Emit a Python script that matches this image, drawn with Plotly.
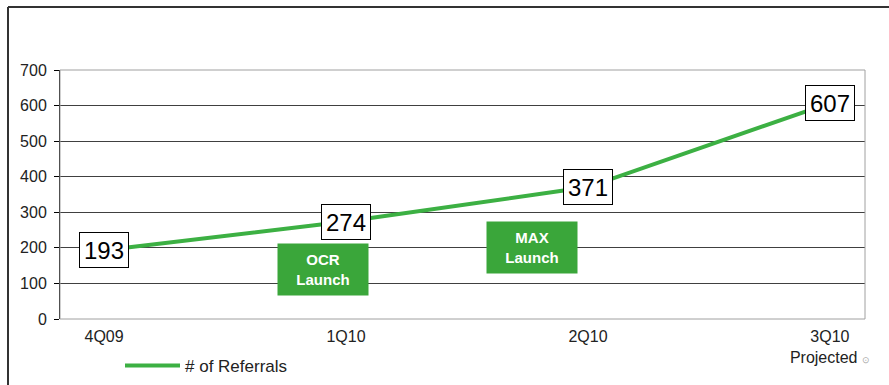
import plotly.graph_objects as go

quarters = ["4Q09", "1Q10", "2Q10", "3Q10<br>Projected <span style='font-size:9px;color:#aaa'>⊙</span>"]
referrals = [193, 274, 371, 607]
events = ["OCR<br>Launch", "MAX<br>Launch"]
series_name = "# of Referrals"

W, H = 889, 385
L, R, T, B = 60, 24, 70, 66
pw, ph = W - L - R, H - T - B

def px(xp):
    return (xp - L) / pw

def py(yp):
    return (H - B - yp) / ph

xs = list(range(len(quarters)))
fig = go.Figure()
fig.add_trace(go.Scatter(
    x=xs, y=referrals, mode="lines", name=series_name,
    line=dict(color="#3cb043", width=4), showlegend=True,
))

for x, v in zip(xs, referrals):
    fig.add_annotation(
        x=x, y=v, text=str(v), showarrow=False,
        font=dict(family="Liberation Sans, Arial", size=24, color="#000"),
        bgcolor="#fff", bordercolor="#000", borderwidth=1, borderpad=2,
        width=44, height=30,
    )

# event boxes (positions in data space between quarters)
event_pos = [(0.905, 140), (1.77, 202)]
for (ex, ey), txt in zip(event_pos, events):
    fig.add_annotation(
        x=ex, y=ey, text="<b>" + txt + "</b>", showarrow=False,
        font=dict(family="Liberation Sans, Arial", size=15, color="#fff"),
        bgcolor="#3aa63a", borderpad=0, width=90, height=51,
    )

# plot frame
fig.add_shape(type="rect", xref="paper", yref="paper", x0=0, x1=1, y0=0, y1=1,
              line=dict(color="#a0a0a0", width=1), layer="above")
# outer frame (left & top)
fig.add_shape(type="line", xref="paper", yref="paper", x0=px(8), x1=px(8), y0=py(7), y1=py(H + 5),
              line=dict(color="#333", width=2))
fig.add_shape(type="line", xref="paper", yref="paper", x0=px(8), x1=px(W + 5), y0=py(7), y1=py(7),
              line=dict(color="#333", width=2))

fig.update_layout(
    width=W, height=H, margin=dict(l=L, r=R, t=T, b=B, autoexpand=False),
    paper_bgcolor="#fff", plot_bgcolor="#fff",
    font=dict(family="Liberation Sans, Arial", size=16, color="#222"),
    xaxis=dict(range=[-0.182, 3.145], tickvals=xs, ticktext=quarters,
               showgrid=False, zeroline=False, showline=False, ticks="",
               ticklabelstandoff=6,
               tickfont=dict(size=16), fixedrange=True),
    yaxis=dict(range=[0, 700], dtick=100, showgrid=True, gridcolor="#404040", gridwidth=1,
               zeroline=False, showline=True, linecolor="#000", linewidth=1,
               ticks="outside", ticklen=5, tickcolor="#000", tickfont=dict(size=16),
               ticklabelstandoff=4, fixedrange=True),
    legend=dict(orientation="h", x=px(120), xanchor="left", y=py(366), yanchor="middle",
                itemwidth=55,
                font=dict(size=17, color="#222"), bgcolor="rgba(0,0,0,0)"),
    showlegend=True,
)

fig.write_html("out.html")
